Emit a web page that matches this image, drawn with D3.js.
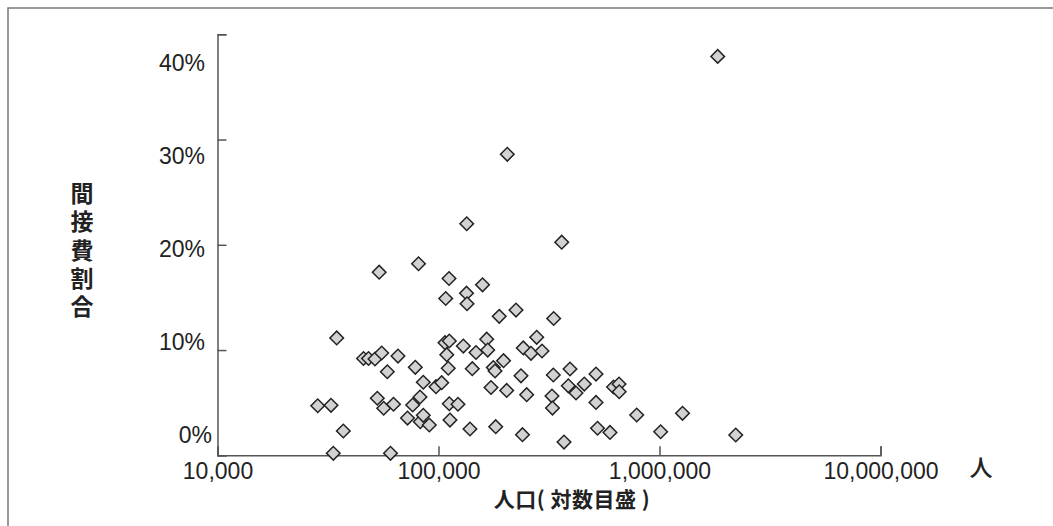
<!DOCTYPE html>
<html>
<head>
<meta charset="utf-8">
<script src="https://cdn.jsdelivr.net/npm/d3@7"></script>
<style>
  body { margin: 0; background: #fff; }
  text { font-family: "Liberation Sans", Arial, "Noto Sans CJK JP", sans-serif; fill: #222; }
  .jp { font-family: "Noto Sans CJK JP", sans-serif; }
</style>
</head>
<body>
<div class="chart"></div>
<script>
var svgWidth = 1053;
var svgHeight = 526;

// population (people) and overhead share (%)
var population = [
  1834000, 204800, 134200, 361000, 53900, 81200, 111600, 107800, 133900, 134600,
  158200, 188300, 224200, 332000, 34630, 45780, 48230, 51600, 55330, 65560,
  58670, 78530, 85350, 97430, 103400, 28410, 32630, 52850, 56490, 62570,
  76430, 82480, 72400, 82730, 85350, 90870, 37090, 33420, 60640, 107000,
  111900, 109000, 129500, 147800, 165200, 167000, 241900, 262100, 294000, 278200,
  196900, 177000, 180200, 110700, 142200, 236200, 330700, 393600, 516100, 172800,
  203500, 250600, 326200, 327900, 386700, 419000, 456800, 516100, 111900, 122500,
  112700, 138800, 181500, 239900, 369800, 619400, 655800, 657200, 788700, 1271000,
  524200, 597000, 1012000, 2213000
];
var overhead = [
  37.9, 28.6, 22.0, 20.25, 17.4, 18.2, 16.8, 14.9, 15.4, 14.4,
  16.2, 13.2, 13.8, 13.0, 11.15, 9.2, 9.2, 9.15, 9.72, 9.43,
  7.94, 8.36, 6.94, 6.52, 6.9, 4.71, 4.75, 5.42, 4.47, 4.85,
  4.78, 5.54, 3.54, 3.19, 3.8, 2.88, 2.31, 0.19, 0.19, 10.7,
  10.86, 9.56, 10.38, 9.77, 11.03, 10.0, 10.2, 9.69, 9.91, 11.21,
  8.99, 8.34, 8.01, 8.27, 8.23, 7.55, 7.63, 8.2, 7.72, 6.44,
  6.16, 5.76, 5.63, 4.49, 6.6, 5.92, 6.77, 5.02, 4.9, 4.85,
  3.35, 2.5, 2.72, 1.96, 1.26, 6.49, 6.77, 6.04, 3.83, 3.99,
  2.57, 2.17, 2.24, 1.93
];

var xTicks = [10000, 100000, 1000000, 10000000];
var yTicks = [0, 10, 20, 30, 40];
var yTitle = "間接費割合";
var xTitle = "人口( 対数目盛 )";
var unitLabel = "人";

var data = population.map(function(p, i) {
  return { pop: p, pct: overhead[i] };
});

var svg = d3.select(".chart")
  .append("svg")
  .attr("width", svgWidth)
  .attr("height", svgHeight);

// outer frame (only top and left edges show)
svg.append("path")
  .attr("d", "M8," + svgHeight + " V8 H" + svgWidth)
  .attr("fill", "none")
  .attr("stroke", "#777")
  .attr("stroke-width", 1.5);

var xScale = d3.scaleLog()
  .domain([10000, 10000000])
  .range([217.5, 880.5]);

var yScale = d3.scaleLinear()
  .domain([0, 40])
  .range([455.3, 34.3]);

// the printed labels sit on a slightly tighter spacing than the ticks
var yLabelScale = d3.scaleLinear()
  .domain([0, 40])
  .range([435, 63.3]);

// x axis, ticks pointing up into the plot
var xAxis = svg.append("g")
  .attr("transform", "translate(0," + yScale(0) + ")")
  .call(d3.axisBottom(xScale)
    .tickValues(xTicks)
    .tickSizeInner(-9)
    .tickSizeOuter(-9)
    .tickPadding(7)
    .tickFormat(d3.format(",")));

xAxis.selectAll("text")
  .style("font-size", "23px")
  .attr("fill", "#222");

// y axis, ticks pointing right, labels drawn separately
var yAxis = svg.append("g")
  .attr("transform", "translate(" + xScale(10000) + ",0)")
  .call(d3.axisLeft(yScale)
    .tickValues(yTicks)
    .tickSizeInner(-9)
    .tickSizeOuter(-9)
    .tickFormat(""));

svg.selectAll(".domain, .tick line")
  .attr("stroke", "#555")
  .attr("stroke-width", 1.5);

svg.append("g")
  .selectAll("text")
  .data(yTicks)
  .enter()
  .append("text")
  .attr("x", d => d === 0 ? 212 : 205)
  .attr("y", d => yLabelScale(d))
  .attr("dy", "0.35em")
  .attr("text-anchor", "end")
  .style("font-size", "23px")
  .text(d => d + "%");

// points
svg.append("g")
  .selectAll("path")
  .data(data)
  .enter()
  .append("path")
  .attr("d", d3.symbol(d3.symbolSquare, 92))
  .attr("transform", d => "translate(" + xScale(d.pop) + "," + yScale(d.pct) + ") rotate(45)")
  .attr("fill", "#d2d2d2")
  .attr("stroke", "#222")
  .attr("stroke-width", 1.5);

// vertical y title as one text run
svg.append("text")
  .attr("class", "jp")
  .attr("x", 82)
  .attr("y", 182)
  .style("writing-mode", "vertical-rl")
  .style("letter-spacing", "5.2px")
  .style("font-size", "23px")
  .style("font-weight", "bold")
  .text(yTitle);

svg.append("text")
  .attr("class", "jp")
  .attr("x", 572)
  .attr("y", 507)
  .attr("text-anchor", "middle")
  .style("font-size", "21px")
  .style("letter-spacing", "0.5px")
  .style("font-weight", "bold")
  .text(xTitle);

svg.append("text")
  .attr("class", "jp")
  .attr("x", 981)
  .attr("y", 468)
  .attr("dy", "0.35em")
  .attr("text-anchor", "middle")
  .style("font-size", "23px")
  .style("font-weight", "500")
  .text(unitLabel);
</script>
</body>
</html>
